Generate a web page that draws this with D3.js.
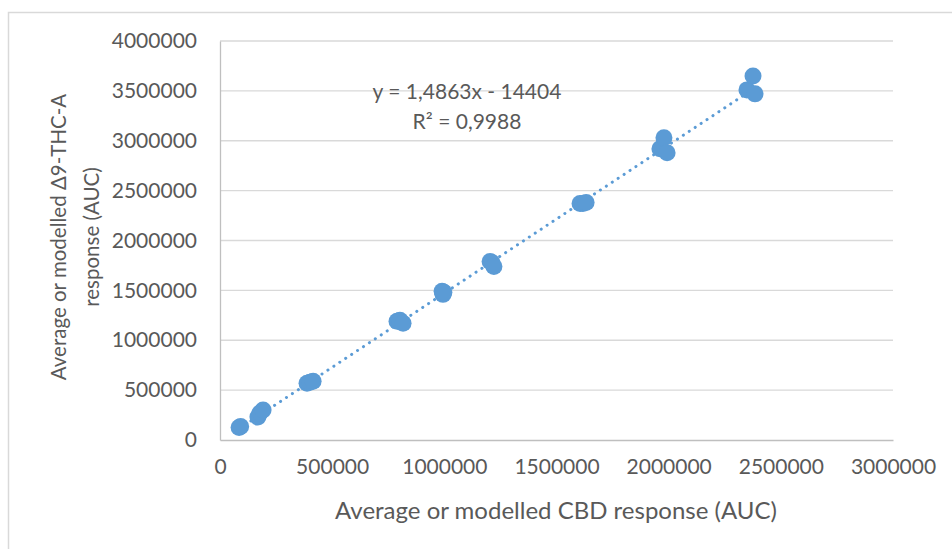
<!DOCTYPE html>
<html>
<head>
<meta charset="utf-8">
<script src="https://cdn.jsdelivr.net/npm/d3@7"></script>
<style>
  body { margin: 0; background: #fff; }
  svg text { font-family: Lato, "Open Sans", sans-serif; fill: #595959; }
</style>
</head>
<body>
<script>
// CBD response (x) vs delta9-THC-A response (y)
const cbd = [85000, 92000, 169000, 178000, 192000, 388000, 401000, 415000,
  789000, 802000, 816000, 990000, 994000, 998000, 1204000, 1212000, 1221000,
  1605000, 1618000, 1632000, 1961000, 1979000, 1993000, 2349000, 2376000, 2385000];
const thc = [125000, 135000, 230000, 270000, 300000, 570000, 580000, 590000,
  1190000, 1200000, 1170000, 1490000, 1460000, 1480000, 1790000, 1780000, 1740000,
  2370000, 2370000, 2380000, 2920000, 3030000, 2880000, 3510000, 3650000, 3470000];

const xTicks = [0, 500000, 1000000, 1500000, 2000000, 2500000, 3000000];
const yTicks = [0, 500000, 1000000, 1500000, 2000000, 2500000, 3000000, 3500000, 4000000];

// trendline coefficients shown on the chart
const slope = 1.4863;
const intercept = -14404;
const eqLabel = "y = 1,4863x - 14404";
const r2Label = "R² = 0,9988";

var width = 952, height = 549;
var margin = {top: 41, right: 59, bottom: 109, left: 220};
var color = "#5b9bd5";

var svg = d3.select("body").append("svg")
  .attr("width", width)
  .attr("height", height);

// chart area border (only left & top visible in the crop)
svg.append("rect")
  .attr("x", 8.5).attr("y", 12.5)
  .attr("width", width + 20).attr("height", height + 20)
  .attr("fill", "#fff")
  .attr("stroke", "#d9d9d9")
  .attr("stroke-width", 1.5);

var x = d3.scaleLinear().domain([0, 3000000]).range([margin.left, width - margin.right]);
var y = d3.scaleLinear().domain([0, 4000000]).range([height - margin.bottom, margin.top]);

// gridlines
svg.append("g")
  .selectAll("line")
  .data(yTicks.slice(1))
  .enter().append("line")
  .attr("x1", x(0)).attr("x2", x(3000000))
  .attr("y1", d => y(d)).attr("y2", d => y(d))
  .attr("stroke", "#d9d9d9").attr("stroke-width", 1.3);

// axes
var xAxis = svg.append("g")
  .attr("transform", `translate(0, ${y(0)})`)
  .call(d3.axisBottom(x).tickValues(xTicks).tickSize(0).tickPadding(19).tickFormat(d3.format("d")));
var yAxis = svg.append("g")
  .attr("transform", `translate(${x(0)}, 0)`)
  .call(d3.axisLeft(y).tickValues(yTicks).tickSize(0).tickPadding(23).tickFormat(d3.format("d")));

[xAxis, yAxis].forEach(a => {
  a.select(".domain").attr("stroke", "#bfbfbf").attr("stroke-width", 1.3);
  a.selectAll("text").style("font-size", "21px").attr("fill", "#595959");
});
xAxis.selectAll("text").attr("dy", "0.71em");

// trendline
var xr = d3.extent(cbd);
svg.append("line")
  .attr("x1", x(xr[0])).attr("y1", y(slope * xr[0] + intercept))
  .attr("x2", x(xr[1])).attr("y2", y(slope * xr[1] + intercept))
  .attr("stroke", color)
  .attr("stroke-width", 3)
  .attr("stroke-linecap", "round")
  .attr("stroke-dasharray", "0.1 7");

// points
svg.append("g")
  .selectAll("circle")
  .data(cbd.map((d, i) => [d, thc[i]]))
  .enter().append("circle")
  .attr("cx", d => x(d[0]))
  .attr("cy", d => y(d[1]))
  .attr("r", 8.5)
  .attr("fill", color);

// equation label
svg.append("text")
  .attr("x", 467).attr("y", 99)
  .attr("text-anchor", "middle")
  .style("font-size", "21px")
  .text(eqLabel);
svg.append("text")
  .attr("x", 467).attr("y", 129)
  .attr("text-anchor", "middle")
  .style("font-size", "21px")
  .text(r2Label);

// axis titles
svg.append("text")
  .attr("x", 556).attr("y", 519)
  .attr("text-anchor", "middle")
  .style("font-size", "24px")
  .text("Average or modelled CBD response (AUC)");

var yt = svg.append("text")
  .attr("transform", `translate(59, 237) rotate(-90)`)
  .attr("text-anchor", "middle")
  .style("font-size", "20.5px");
yt.append("tspan").attr("x", 0).attr("dy", "0.35em").text("Average or modelled Δ9-THC-A");
yt.append("tspan").attr("x", 0).attr("dy", "33px").text("response (AUC)");
</script>
</body>
</html>
